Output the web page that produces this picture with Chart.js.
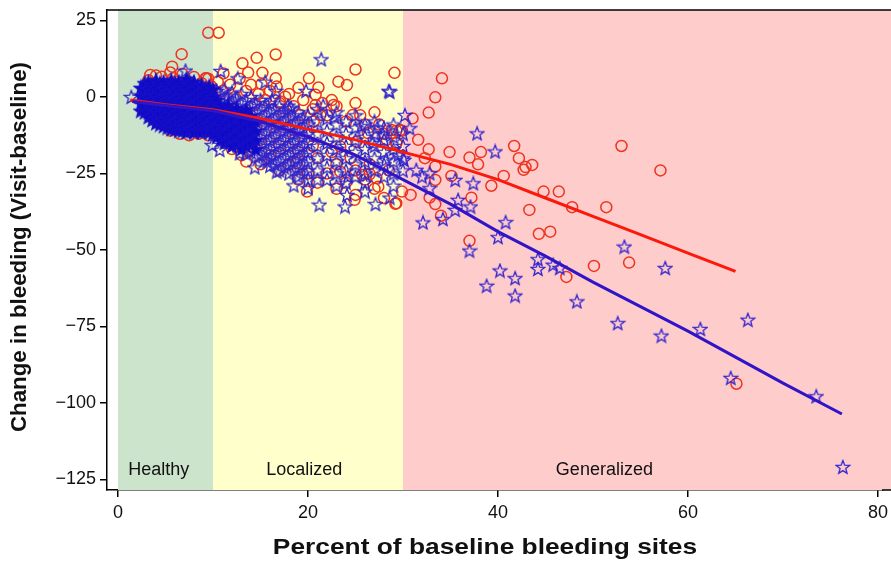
<!DOCTYPE html>
<html>
<head>
<meta charset="utf-8">
<script src="https://cdn.jsdelivr.net/npm/chart.js@4/dist/chart.umd.min.js"></script>
<style>
html,body{margin:0;padding:0;background:#fff;}
canvas{display:block;}
</style>
</head>
<body>
<canvas id="c" width="891" height="561"></canvas>
<script>
// ---------- data ----------
const xTicks = [0, 20, 40, 60, 80];
const yTicks = [-125, -100, -75, -50, -25, 0, 25];
const xTitle = "Percent of baseline bleeding sites";
const yTitle = "Change in bleeding (Visit-baseline)";
const bandNames = ["Healthy", "Localized", "Generalized"];
const bandStarts = [0, 10, 30];
const bandEnds = [10, 30, 90];
const bandLabelX = [4.3, 19.6, 51.2];
const bandLabelY = -122;

// red circles
const redPoints = [
 [9.5,21],[10.6,21],[6.7,14],[16.6,13.9],[14.6,12.8],[13.1,11],[13.7,8],[15.2,7.9],[16.6,6.1],[15.1,4.2],
 [16.7,3.4],[17.6,0.1],[20.1,6.1],[21.1,3.1],[20.8,0.7],[23.2,5],[24.1,3.9],[25,9],[29.1,7.9],[25,-2],
 [22.5,-1],[24.7,-5.9],[22.7,-2.6],[20.8,-2.6],[19.2,-5.9],[28.8,-10.8],[29.7,-10.8],[28.3,-14],[29.3,-15.1],[26.3,-11.8],
 [25.1,-14.6],[13.5,-21.1],[18.8,-21.6],[19.9,-30.9],[25.7,-25.5],[26.5,-25.2],[27.2,-26.5],[27.4,-29.3],[24.9,-33.6],[29.3,-34.7],
 [29.9,-30.9],[23.4,-24.4],[23.4,-16.2],[17.1,-1.5],[14.4,-2.6],[11.1,7.7],[9.2,6.1],[13.2,-5.9],[17.4,-7],[20.6,-8],[21.3,-5.9],
 [34.1,6.1],[33.4,-0.1],[32.7,-5.1],[31,-7],[29.3,-11],[29.9,-11],[31.6,-14],[29.3,-14.9],[32.7,-17.1],[32.3,-20],
 [34.9,-18],[37,-19.8],[38.2,-18],[37.9,-22],[33.4,-22.7],[33.4,-27.1],[35.1,-25.8],[39.3,-29],[40.6,-25.8],[41.7,-16],
 [42.2,-20],[42.7,-23.8],[42.9,-22.9],[43.6,-22.2],[44.8,-30.9],[46.4,-30.9],[47.8,-36],[43.3,-36.9],[44.3,-44.7],[45.5,-44],
 [47.2,-58.8],[37.2,-32.9],[37,-47],[30.8,-32],[32.8,-32.9],[33.4,-35],[34,-38.8],[29.2,-34.9],
 [53,-16],[57.1,-24],[51.4,-36],[50.1,-55.2],[53.8,-54.1],[65.1,-93.7],
 [3.2,5.5],[4,7],[4.8,4],[5.5,8],[6.2,5],[6.8,7.5],[7.5,4],[8,6.5],[8.8,4.5],[9.5,6],
 [6.5,-12],[7.5,-12.5],[8.5,-12],[9.5,-12.5],[5.5,-11],[3.5,3],[9.8,3.5],[5.7,9.9],[3.4,7.2],[4.6,6.6],
 [5.8,6.1],[8.2,2.8],[9.3,6.1],
 [10.5,5],[11,2],[11.8,4],[12.3,0],[12.8,6],[13.5,2],[14,4],[14.8,1],[15.5,-1],[16,2],
 [17,-2],[18,1],[18.5,-3],[19,3],[19.5,-1],[20.5,-4],[21.5,-2],[22,-6],[23,-3],[24,-8],
 [25.5,-6],[26,-9],[27,-5],[27.5,-9],[28,-12],[11,-14],[12,-17],[13,-19],[14,-16],[15,-22],
 [16,-19],[17,-24],[18,-22],[19,-27],[20,-25],[21,-28],[22,-25],[23,-30],[24,-28],[25,-32],
 [26,-27],[27,-30],[28,-33],[12.5,-8],[14.5,-10],[16.5,-12],[18.5,-14],[20.5,-16],[22.5,-18],[24.5,-20],
 [26.5,-22],[28.5,-24],[21,-20],[23,-22],[25,-24],[19,-18],[17,-16],[15,-14],[13,-12]
];

// blue stars: scattered points
const bluePoints = [
 [1.4,0],[7.1,8.6],[21.4,12.3],[28.5,2],[19.8,2],[10.8,8.5],[12.6,6.1],[15.5,5],[16.6,2],[17.9,-2.8],
 [21.6,-2.8],[9.9,-15.7],[10.7,-17.3],[18.5,-28.9],[20,-29.8],[21.2,-35.2],[23.9,-35.8],[24.1,-32],[26,-30.9],[27.1,-35],
 [28.6,-32.9],[30.2,-5.9],[27.9,-12.2],[24.2,-26],[16.7,-24.4],[14.4,-23],[12.8,-18.4],[15.7,-21.1],[28.6,1.7],[30.7,-10.2],
 [37.8,-11.9],[39.7,-17.8],[30.1,-20.6],[31.4,-23.8],[32,-26],[32.8,-24.9],[32.8,-29.8],[35.5,-27.1],[37.4,-28.2],[35.8,-33.6],
 [35.5,-36.9],[37.1,-35.8],[32.1,-41],[34.2,-39.9],[40.8,-40.9],[40,-45.8],[37,-50.2],[44.2,-53],[44.2,-56.2],[45.8,-54.8],
 [46.5,-55.9],[40.2,-56.7],[41.8,-59.2],[38.8,-61.7],[48.3,-66.8],[41.8,-64.9],[52.6,-73.9],[57.2,-78],[61.3,-75.8],[66.3,-72.8],
 [53.3,-48.9],[57.6,-55.9],[76.3,-120.9],[73.5,-97.8],[64.5,-91.8],
 [16.2,-1],[18.2,-3.5],[22.8,-6.5],[25.6,-9.5],[27.3,-10],[26.8,-15],[29.5,-19],[28.2,-20.5]
];

// blue stars: the overplotted core, read column by column as [x, [y values]]
const blueCoreGreen = [
 [2.4,[3,0.5,-2,-4.5]],
 [2.8,[4.5,2,-0.5,-3,-5]],
 [3.2,[5,2.5,0,-2.5,-5,-6.5]],
 [3.6,[4,1.5,-1,-3.5,-6,-7.5]],
 [4.0,[5.5,3,0.5,-2,-4.5,-7,-8.5]],
 [4.4,[4.5,2,-0.5,-3,-5.5,-8,-9]],
 [4.8,[5,2.5,0,-2.5,-5,-7.5,-9.5]],
 [5.2,[4,1.5,-1,-3.5,-6,-8.5,-10]],
 [5.6,[5.5,3,0.5,-2,-4.5,-7,-9.5,-10.5]],
 [6.0,[4.5,2,-0.5,-3,-5.5,-8,-10.5]],
 [6.4,[5,2.5,0,-2.5,-5,-7.5,-10,-11]],
 [6.8,[4,1.5,-1,-3.5,-6,-8.5,-11]],
 [7.2,[6,3,0.5,-2,-4.5,-7,-9.5,-11.5]],
 [7.6,[4.5,2,-0.5,-3,-5.5,-8,-10.5]],
 [8.0,[5,2.5,0,-2.5,-5,-7.5,-10,-11.5]],
 [8.4,[3.5,1,-1.5,-4,-6.5,-9,-11]],
 [8.8,[4,1.5,-1,-3.5,-6,-8.5,-11.5]],
 [9.2,[3,0.5,-2,-4.5,-7,-9.5,-11]],
 [9.6,[3.5,1,-1.5,-4,-6.5,-9,-11.5]],
 [10.0,[2.5,0,-2.5,-5,-7.5,-10,-12]]
];
const blueCoreMid = [
 [10.4,[-1,-4,-7,-10,-13]],
 [10.8,[-2.5,-5.5,-8.5,-11.5,-14]],
 [11.2,[-3.5,-6.5,-9.5,-12.5,-15]],
 [11.6,[-2.5,-5.5,-8.5,-11.5,-14.5]],
 [12.0,[-4.5,-7.5,-10.5,-13.5,-16]],
 [12.5,[-3.5,-6.5,-9.5,-12.5,-15.5]],
 [13.0,[-5,-8,-11,-14,-17]],
 [13.5,[-4,-7,-10,-13,-16]],
 [14.0,[-6,-9,-12,-15]],
 [14.5,[-8,-11,-14,-17]]
];
const blueCoreOuter = [
 [10.4,[2]],[10.8,[1]],[11.2,[2.5,-0.5]],[11.6,[0.5]],[12.0,[1.5,-1.5]],[12.5,[-0.5]],[13.0,[1,-2]],
 [13.5,[-1,-18.5]],[14.0,[0,-3,-18]],[14.5,[-2,-5,-19.5]],[15.0,[-1,-4,-7,-10,-13,-16,-19]],
 [15.5,[-3,-6,-9,-12,-15,-18,-20.5]],[16.0,[-2,-5,-8,-11,-14,-17,-20,-22.5]],
 [16.5,[-4,-7,-10,-13,-16,-19,-22]],
 [17.0,[-3,-6,-9,-12,-15,-18,-21,-24]],
 [17.5,[-5,-8,-11,-14,-17,-20,-23]],
 [18.0,[-4,-7,-10,-13,-16,-19,-22,-25]],
 [18.5,[-6,-9,-12,-15,-18,-21,-24]],
 [19.0,[-5,-8,-11,-14,-17,-20,-23,-26]],
 [19.5,[-7,-10,-13,-16,-19,-22,-25]],
 [20.0,[-6,-9,-12,-15,-18,-21,-24,-27]],
 [21,[-4,-8,-12,-16,-20,-24,-27]],
 [22,[-7,-11,-15,-19,-23,-27]],
 [23,[-5,-9,-13,-17,-21,-25,-29]],
 [24,[-8,-12,-16,-20,-24,-28]],
 [25,[-6,-10,-14,-18,-22,-26]],
 [26,[-9,-13,-17,-21,-25,-28]],
 [27,[-8,-12,-16,-20,-24]],
 [28,[-10,-14,-18,-22,-26]],
 [29,[-9,-13,-17,-21,-25,-29]],
 [30,[-12,-16,-20,-24]]
];

// smoothed trend lines
const redLineX = [1.3, 5, 10, 15, 20, 25, 30, 35, 40, 45, 50, 55, 60, 65];
const redLineY = [-1, -2.5, -4.2, -7, -10.5, -14, -18, -22, -27, -33, -39, -45, -51, -57];
const blueLineX = [1.5, 5, 10, 15, 20, 25, 30, 35, 40, 45, 50, 55, 60, 65, 70, 76.2];
const blueLineY = [-1.5, -2.8, -4.5, -8, -13, -19, -27, -35, -44, -52, -60.5, -68.5, -76.5, -85, -93.5, -103.6];

// ---------- build ----------
const toXY = a => a.map(p => ({x: p[0], y: p[1]}));
const fromCols = cols => { const out = []; cols.forEach(c => c[1].forEach(y => out.push({x: c[0], y: y}))); return out; };
const blueOutline = toXY(bluePoints).concat(fromCols(blueCoreOuter));
const blueSolid = fromCols(blueCoreGreen).concat(fromCols(blueCoreMid));
const redAll = toXY(redPoints);
const redLine = redLineX.map((x, i) => ({x: x, y: redLineY[i]}));
const blueLine = blueLineX.map((x, i) => ({x: x, y: blueLineY[i]}));

const RED = 'rgb(238,52,30)';
const BLUE = 'rgb(48,36,205)';
const FONT = "'Liberation Sans', Arial, sans-serif";
const X0PX = 118, PX_PER_UNIT = 9.5;   // x = 0 at 118 px, 9.5 px per unit

function makeStar(filled) {
  const cv = document.createElement('canvas');
  cv.width = 16; cv.height = 16;
  const g = cv.getContext('2d');
  g.beginPath();
  for (let i = 0; i < 10; i++) {
    const r = i % 2 === 0 ? 7 : 3;
    const a = -Math.PI / 2 + i * Math.PI / 5;
    const px = 8 + r * Math.cos(a), py = 8.6 + r * Math.sin(a);
    if (i === 0) g.moveTo(px, py); else g.lineTo(px, py);
  }
  g.closePath();
  if (filled) { g.fillStyle = 'rgb(14,10,200)'; g.fill(); g.strokeStyle = 'rgb(24,16,200)'; }
  else g.strokeStyle = BLUE;
  g.lineWidth = 1.3;
  g.stroke();
  return cv;
}
const starOpen = makeStar(false);
const starSolid = makeStar(true);

const bandColors = ['rgb(204,228,204)', 'rgb(255,255,204)', 'rgb(255,204,204)'];

const decor = {
  id: 'decor',
  beforeDraw(chart) {
    const c = chart.ctx;
    c.save(); c.fillStyle = '#fff'; c.fillRect(0, 0, chart.width, chart.height); c.restore();
  },
  beforeDatasetsDraw(chart) {
    const c = chart.ctx, a = chart.chartArea, xs = chart.scales.x, ys = chart.scales.y;
    c.save();
    c.beginPath(); c.rect(a.left, a.top, chart.width - a.left, a.bottom - a.top); c.clip();
    bandStarts.forEach((s, i) => {
      const x0 = xs.getPixelForValue(s), x1 = xs.getPixelForValue(bandEnds[i]);
      c.fillStyle = bandColors[i];
      c.fillRect(x0, a.top, x1 - x0, a.bottom - a.top);
    });
    c.fillStyle = '#111';
    c.font = '18px ' + FONT;
    c.textAlign = 'center'; c.textBaseline = 'middle';
    bandNames.forEach((n, i) => c.fillText(n, xs.getPixelForValue(bandLabelX[i]), ys.getPixelForValue(bandLabelY)));
    c.restore();
  },
  afterDraw(chart) {
    const c = chart.ctx, a = chart.chartArea;
    c.save();
    c.strokeStyle = '#000'; c.lineWidth = 1.5;
    c.beginPath();
    c.moveTo(a.left, a.top); c.lineTo(chart.width, a.top);
    c.moveTo(a.right - 1, a.bottom); c.lineTo(chart.width, a.bottom);
    c.stroke();
    c.fillStyle = '#111';
    c.textAlign = 'center'; c.textBaseline = 'middle';
    c.save();
    c.translate(485, 548); c.scale(1.17, 1);
    c.font = 'bold 22.5px ' + FONT;
    c.fillText(xTitle, 0, 0);
    c.restore();
    c.translate(20, 247); c.rotate(-Math.PI / 2);
    c.font = 'bold 22.3px ' + FONT;
    c.fillText(yTitle, 0, 0);
    c.restore();
  }
};

const fmt = v => (v < 0 ? '\u2212' + Math.abs(v) : String(v));

const chart = new Chart(document.getElementById('c'), {
  type: 'scatter',
  data: {
    datasets: [
      {type: 'line', data: blueLine, borderColor: 'rgb(50,20,200)', borderWidth: 3, pointRadius: 0, fill: false, tension: 0, order: 0},
      {type: 'line', data: redLine, borderColor: 'rgb(250,25,10)', borderWidth: 3, pointRadius: 0, fill: false, tension: 0, order: 1},
      {data: blueSolid, pointStyle: starSolid, pointRadius: 7, order: 2},
      {data: blueOutline, pointStyle: starOpen, pointRadius: 7, order: 3},
      {data: redAll, pointStyle: 'circle', pointRadius: 5.5, borderWidth: 1.5, borderColor: RED, backgroundColor: 'rgba(0,0,0,0)', order: 4}
    ]
  },
  options: {
    responsive: false,
    animation: false,
    layout: {padding: {top: 10, right: 0, left: 0, bottom: 0}},
    plugins: {legend: {display: false}, tooltip: {enabled: false}},
    scales: {
      x: {
        type: 'linear', min: -1.158, max: 81.37,
        afterBuildTicks: s => { s.ticks = xTicks.map(v => ({value: v})); },
        afterFit: s => { s.height = 71; s.paddingLeft = 0; s.paddingRight = 0; },
        grid: {display: true, drawOnChartArea: false, drawTicks: true, tickLength: 7, color: '#000', lineWidth: 1.5},
        border: {display: true, color: '#000', width: 1.5},
        ticks: {color: '#111', font: {family: FONT, size: 18}, padding: 5, maxRotation: 0, callback: v => fmt(v)}
      },
      y: {
        type: 'linear', min: -128.43, max: 28.43,
        afterBuildTicks: s => { s.ticks = yTicks.map(v => ({value: v})); },
        afterFit: s => { s.width = 107; s.paddingTop = 0; s.paddingBottom = 0; },
        grid: {display: true, drawOnChartArea: false, drawTicks: true, tickLength: 7, color: '#000', lineWidth: 1.5},
        border: {display: true, color: '#000', width: 1.5},
        ticks: {color: '#111', font: {family: FONT, size: 18}, padding: 4, callback: v => fmt(v)}
      }
    }
  },
  plugins: [decor]
});
// match the reference's x pixel scale to whatever plot width the layout produced
const ca = chart.chartArea;
chart.options.scales.x.min = (ca.left - X0PX) / PX_PER_UNIT;
chart.options.scales.x.max = (ca.right - X0PX) / PX_PER_UNIT;
chart.update('none');
</script>
</body>
</html>
